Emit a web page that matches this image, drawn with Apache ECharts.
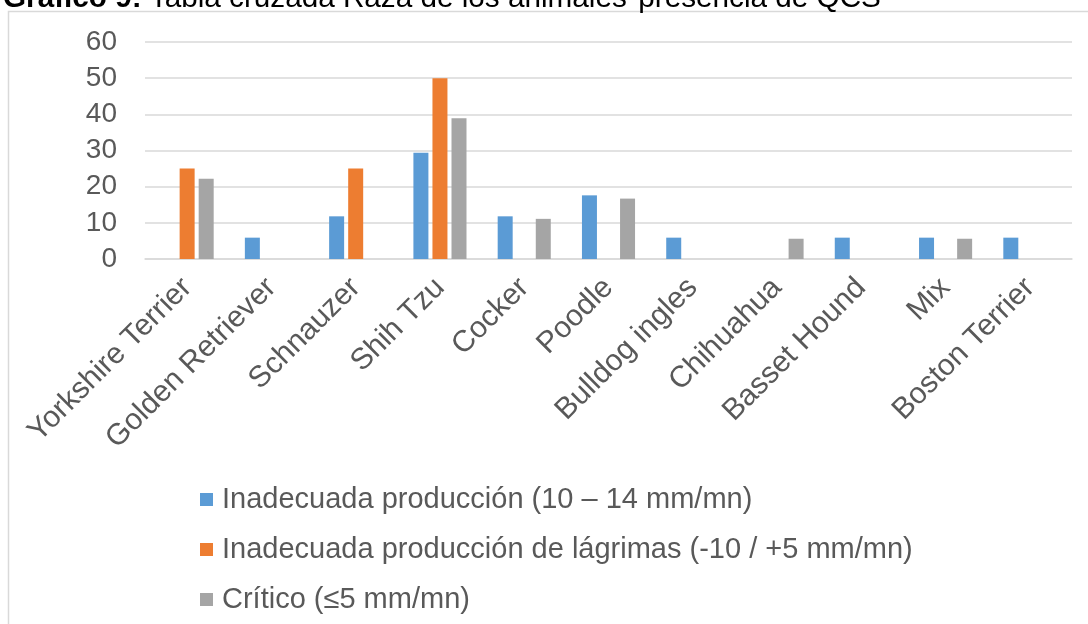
<!DOCTYPE html>
<html>
<head>
<meta charset="utf-8">
<script src="https://cdn.jsdelivr.net/npm/echarts@6/dist/echarts.min.js"></script>
<style>
  html, body { margin: 0; padding: 0; background: #fff; }
  #main { width: 1088px; height: 624px; }
</style>
</head>
<body>
<div id="main"></div>
<script>
const razas = ['Yorkshire Terrier', 'Golden Retriever', 'Schnauzer', 'Shih Tzu', 'Cocker', 'Poodle', 'Bulldog ingles', 'Chihuahua', 'Basset Hound', 'Mix', 'Boston Terrier'];
const inadecuada = [null, 5.9, 11.8, 29.4, 11.8, 17.6, 5.9, null, 5.9, 5.9, 5.9];
const lagrimas = [25, null, 25, 50, null, null, null, null, null, null, null];
const critico = [22.2, null, null, 38.9, 11.1, 16.7, null, 5.6, null, 5.6, null];
const nombres = [
  'Inadecuada producción (10 – 14 mm/mn)',
  'Inadecuada producción de lágrimas (-10 / +5 mm/mn)',
  'Crítico (≤5 mm/mn)'
];

const chart = echarts.init(document.getElementById('main'));
const font = 'Liberation Sans, Arial, sans-serif';

chart.setOption({
  animation: false,
  backgroundColor: '#ffffff',
  color: ['#5b9bd5', '#ed7d31', '#a5a5a5'],
  textStyle: { fontFamily: font },
  title: {
    left: -2,
    top: -21,
    text: '{b|Gráfico 9:} Tabla cruzada Raza de los animales*presencia de QCS',
    textStyle: {
      fontFamily: font,
      fontSize: 29.7,
      fontWeight: 'normal',
      color: '#000',
      rich: {
        b: { fontFamily: font, fontSize: 29.7, fontWeight: 'bold', color: '#000' }
      }
    }
  },
  // borde del área del gráfico (cortado como en la imagen)
  graphic: [{
    type: 'rect',
    shape: { x: 8.5, y: 11.5, width: 1200, height: 700 },
    style: { fill: 'none', stroke: '#d9d9d9', lineWidth: 1.5 },
    silent: true
  }],
  grid: { left: 145, right: 16, top: 42, bottom: 365 },
  legend: {
    orient: 'vertical',
    left: 195,
    top: 480,
    itemGap: 21,
    itemWidth: 13,
    itemHeight: 13,
    icon: 'rect',
    textStyle: { fontFamily: font, fontSize: 29, color: '#595959', padding: [0, 0, 0, 4] },
    data: nombres
  },
  xAxis: {
    type: 'category',
    data: razas,
    axisLine: { lineStyle: { color: '#d9d9d9', width: 1.5 } },
    axisTick: { show: false },
    axisLabel: {
      interval: 0,
      rotate: 45,
      margin: 24,
      fontFamily: font,
      fontSize: 30,
      color: '#595959'
    }
  },
  yAxis: {
    type: 'value',
    min: 0,
    max: 60,
    interval: 10,
    axisLine: { show: false },
    axisTick: { show: false },
    splitLine: { lineStyle: { color: '#d9d9d9', width: 1.5 } },
    axisLabel: { fontFamily: font, fontSize: 28, color: '#595959', margin: 28 }
  },
  series: [
    { name: nombres[0], type: 'bar', data: inadecuada, barWidth: 15, barGap: '27%' },
    { name: nombres[1], type: 'bar', data: lagrimas, barWidth: 15, barGap: '27%' },
    { name: nombres[2], type: 'bar', data: critico, barWidth: 15, barGap: '27%' }
  ]
});
</script>
</body>
</html>
